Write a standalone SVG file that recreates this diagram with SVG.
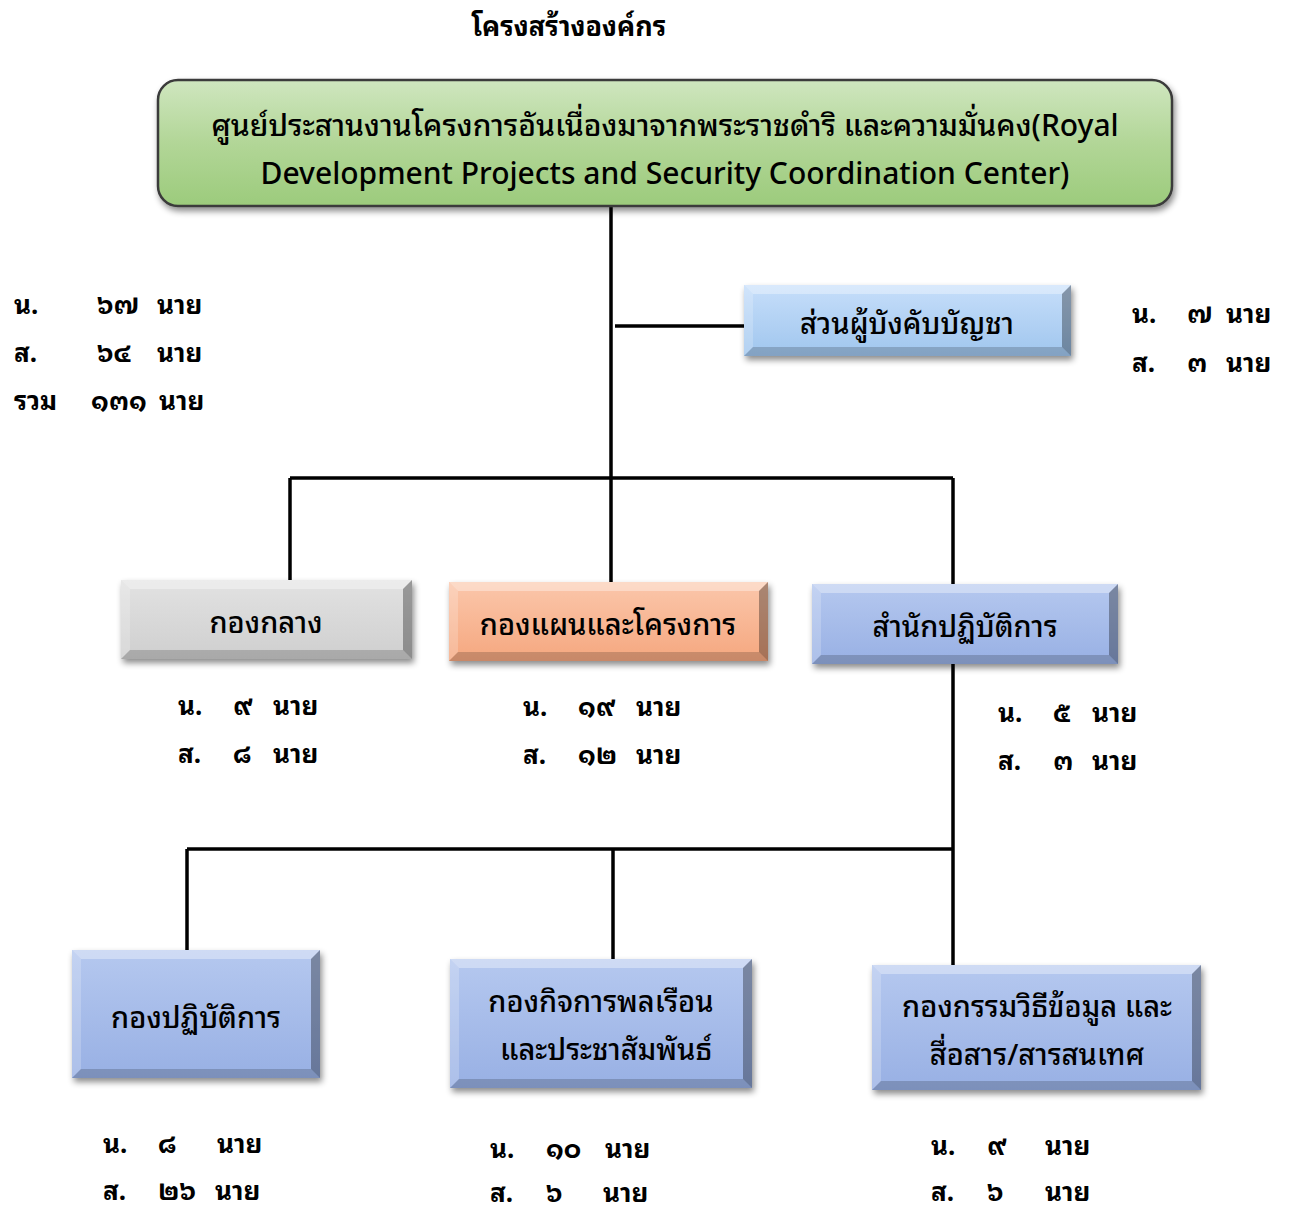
<svg xmlns="http://www.w3.org/2000/svg" width="1290" height="1211" viewBox="0 0 1290 1211">
<defs>
<style>
text{font-family:"Noto Sans Thai Looped","Noto Serif Thai","Noto Sans Thai","Noto Sans","DejaVu Sans",sans-serif;fill:#000}
.title{font-size:27px;font-weight:bold;text-anchor:middle}
.lbl{font-size:29px;font-weight:500;text-anchor:middle}
.top{font-size:30px;font-weight:500;text-anchor:middle}
.st{font-size:26px;font-weight:bold}
.ln{stroke:#000;stroke-width:3.5;fill:none}
.bt{fill:#fff;opacity:.35}
.bl{fill:#fff;opacity:.2}
.bb{fill:#000;opacity:.18}
.br{fill:#000;opacity:.32}
</style>
<linearGradient id="gGreen" x1="0" y1="0" x2="0" y2="1"><stop offset="0" stop-color="#cfe6bf"/><stop offset="0.5" stop-color="#b2d697"/><stop offset="1" stop-color="#9ccb7c"/></linearGradient>
<linearGradient id="gLB" x1="0" y1="0" x2="0" y2="1"><stop offset="0" stop-color="#c6defa"/><stop offset="1" stop-color="#a0c6ee"/></linearGradient>
<linearGradient id="gGray" x1="0" y1="0" x2="0" y2="1"><stop offset="0" stop-color="#e2e2e2"/><stop offset="1" stop-color="#cfcfcf"/></linearGradient>
<linearGradient id="gOr" x1="0" y1="0" x2="0" y2="1"><stop offset="0" stop-color="#fbc7ab"/><stop offset="1" stop-color="#f5a77f"/></linearGradient>
<linearGradient id="gBl" x1="0" y1="0" x2="0" y2="1"><stop offset="0" stop-color="#b5c8ef"/><stop offset="1" stop-color="#98b0e4"/></linearGradient>
<filter id="sh" x="-10%" y="-20%" width="130%" height="150%"><feDropShadow dx="2" dy="4" stdDeviation="3" flood-color="#000" flood-opacity="0.45"/></filter>
</defs>
<rect width="1290" height="1211" fill="#fff"/>

<text class="title" x="569" y="36">โครงสร้างองค์กร</text>

<g id="connectors">
<path class="ln" d="M611 204V586"/>
<path class="ln" d="M615 326H746"/>
<path class="ln" d="M290 478H953"/>
<path class="ln" d="M290 478V582"/>
<path class="ln" d="M953 478V586"/>
<path class="ln" d="M953 662V967"/>
<path class="ln" d="M187 849H953"/>
<path class="ln" d="M187 849V952"/>
<path class="ln" d="M613 849V961"/>
</g>

<g id="center">
<rect x="158" y="80" width="1014" height="126" rx="20" fill="url(#gGreen)" stroke="#3a3a3a" stroke-width="2.5" filter="url(#sh)"/>
<text class="top" x="665" y="136">ศูนย์ประสานงานโครงการอันเนื่องมาจากพระราชดำริ และความมั่นคง(Royal</text>
<text class="top" x="665" y="184">Development Projects and Security Coordination Center)</text>
</g>

<g id="commander">
<rect x="744" y="285" width="327" height="71" fill="url(#gLB)" filter="url(#sh)"/>
<path class="bt" d="M744 285H1071L1062 294H753Z"/><path class="bl" d="M744 285L753 294V347L744 356Z"/><path class="bb" d="M744 356L753 347H1062L1071 356Z"/><path class="br" d="M1071 285V356L1062 347V294Z"/>
<text class="lbl" x="907" y="334">ส่วนผู้บังคับบัญชา</text>
</g>

<g id="central">
<rect x="121" y="580" width="291" height="79" fill="url(#gGray)" filter="url(#sh)"/>
<path class="bt" d="M121 580H412L403 589H130Z"/><path class="bl" d="M121 580L130 589V650L121 659Z"/><path class="bb" d="M121 659L130 650H403L412 659Z"/><path class="br" d="M412 580V659L403 650V589Z"/>
<text class="lbl" x="266" y="633">กองกลาง</text>
</g>

<g id="plans">
<rect x="449" y="582" width="319" height="79" fill="url(#gOr)" filter="url(#sh)"/>
<path class="bt" d="M449 582H768L759 591H458Z"/><path class="bl" d="M449 582L458 591V652L449 661Z"/><path class="bb" d="M449 661L458 652H759L768 661Z"/><path class="br" d="M768 582V661L759 652V591Z"/>
<text class="lbl" x="608" y="635">กองแผนและโครงการ</text>
</g>

<g id="operations-office">
<rect x="812" y="584" width="306" height="80" fill="url(#gBl)" filter="url(#sh)"/>
<path class="bt" d="M812 584H1118L1109 593H821Z"/><path class="bl" d="M812 584L821 593V655L812 664Z"/><path class="bb" d="M812 664L821 655H1109L1118 664Z"/><path class="br" d="M1118 584V664L1109 655V593Z"/>
<text class="lbl" x="965" y="637">สำนักปฏิบัติการ</text>
</g>

<g id="operations">
<rect x="72" y="950" width="248" height="128" fill="url(#gBl)" filter="url(#sh)"/>
<path class="bt" d="M72 950H320L311 959H81Z"/><path class="bl" d="M72 950L81 959V1069L72 1078Z"/><path class="bb" d="M72 1078L81 1069H311L320 1078Z"/><path class="br" d="M320 950V1078L311 1069V959Z"/>
<text class="lbl" x="196" y="1028">กองปฏิบัติการ</text>
</g>

<g id="civil-affairs">
<rect x="450" y="959" width="302" height="129" fill="url(#gBl)" filter="url(#sh)"/>
<path class="bt" d="M450 959H752L743 968H459Z"/><path class="bl" d="M450 959L459 968V1079L450 1088Z"/><path class="bb" d="M450 1088L459 1079H743L752 1088Z"/><path class="br" d="M752 959V1088L743 1079V968Z"/>
<text class="lbl" x="601" y="1012">กองกิจการพลเรือน</text>
<text class="lbl" x="606" y="1060">และประชาสัมพันธ์</text>
</g>

<g id="data-processing">
<rect x="872" y="965" width="329" height="125" fill="url(#gBl)" filter="url(#sh)"/>
<path class="bt" d="M872 965H1201L1192 974H881Z"/><path class="bl" d="M872 965L881 974V1081L872 1090Z"/><path class="bb" d="M872 1090L881 1081H1192L1201 1090Z"/><path class="br" d="M1201 965V1090L1192 1081V974Z"/>
<text class="lbl" x="1037" y="1017">กองกรรมวิธีข้อมูล และ</text>
<text class="lbl" x="1037" y="1065">สื่อสาร/สารสนเทศ</text>
</g>

<g id="stats">
<text class="st" x="14" y="314">น.</text><text class="st" x="97" y="314">๖๗</text><text class="st" x="157" y="314">นาย</text>
<text class="st" x="14" y="362">ส.</text><text class="st" x="97" y="362">๖๔</text><text class="st" x="157" y="362">นาย</text>
<text class="st" x="14" y="410">รวม</text><text class="st" x="91" y="410">๑๓๑</text><text class="st" x="159" y="410">นาย</text>

<text class="st" x="1132" y="323">น.</text><text class="st" x="1187" y="323">๗</text><text class="st" x="1226" y="323">นาย</text>
<text class="st" x="1132" y="372">ส.</text><text class="st" x="1187" y="372">๓</text><text class="st" x="1226" y="372">นาย</text>

<text class="st" x="178" y="715">น.</text><text class="st" x="233" y="715">๙</text><text class="st" x="273" y="715">นาย</text>
<text class="st" x="178" y="763">ส.</text><text class="st" x="233" y="763">๘</text><text class="st" x="273" y="763">นาย</text>

<text class="st" x="523" y="716">น.</text><text class="st" x="578" y="716">๑๙</text><text class="st" x="636" y="716">นาย</text>
<text class="st" x="523" y="764">ส.</text><text class="st" x="578" y="764">๑๒</text><text class="st" x="636" y="764">นาย</text>

<text class="st" x="998" y="722">น.</text><text class="st" x="1053" y="722">๕</text><text class="st" x="1092" y="722">นาย</text>
<text class="st" x="998" y="770">ส.</text><text class="st" x="1053" y="770">๓</text><text class="st" x="1092" y="770">นาย</text>

<text class="st" x="103" y="1153">น.</text><text class="st" x="158" y="1153">๘</text><text class="st" x="217" y="1153">นาย</text>
<text class="st" x="103" y="1200">ส.</text><text class="st" x="158" y="1200">๒๖</text><text class="st" x="215" y="1200">นาย</text>

<text class="st" x="490" y="1158">น.</text><text class="st" x="546" y="1158">๑๐</text><text class="st" x="605" y="1158">นาย</text>
<text class="st" x="490" y="1202">ส.</text><text class="st" x="546" y="1202">๖</text><text class="st" x="603" y="1202">นาย</text>

<text class="st" x="931" y="1155">น.</text><text class="st" x="987" y="1155">๙</text><text class="st" x="1045" y="1155">นาย</text>
<text class="st" x="931" y="1201">ส.</text><text class="st" x="987" y="1201">๖</text><text class="st" x="1045" y="1201">นาย</text>
</g>
</svg>
